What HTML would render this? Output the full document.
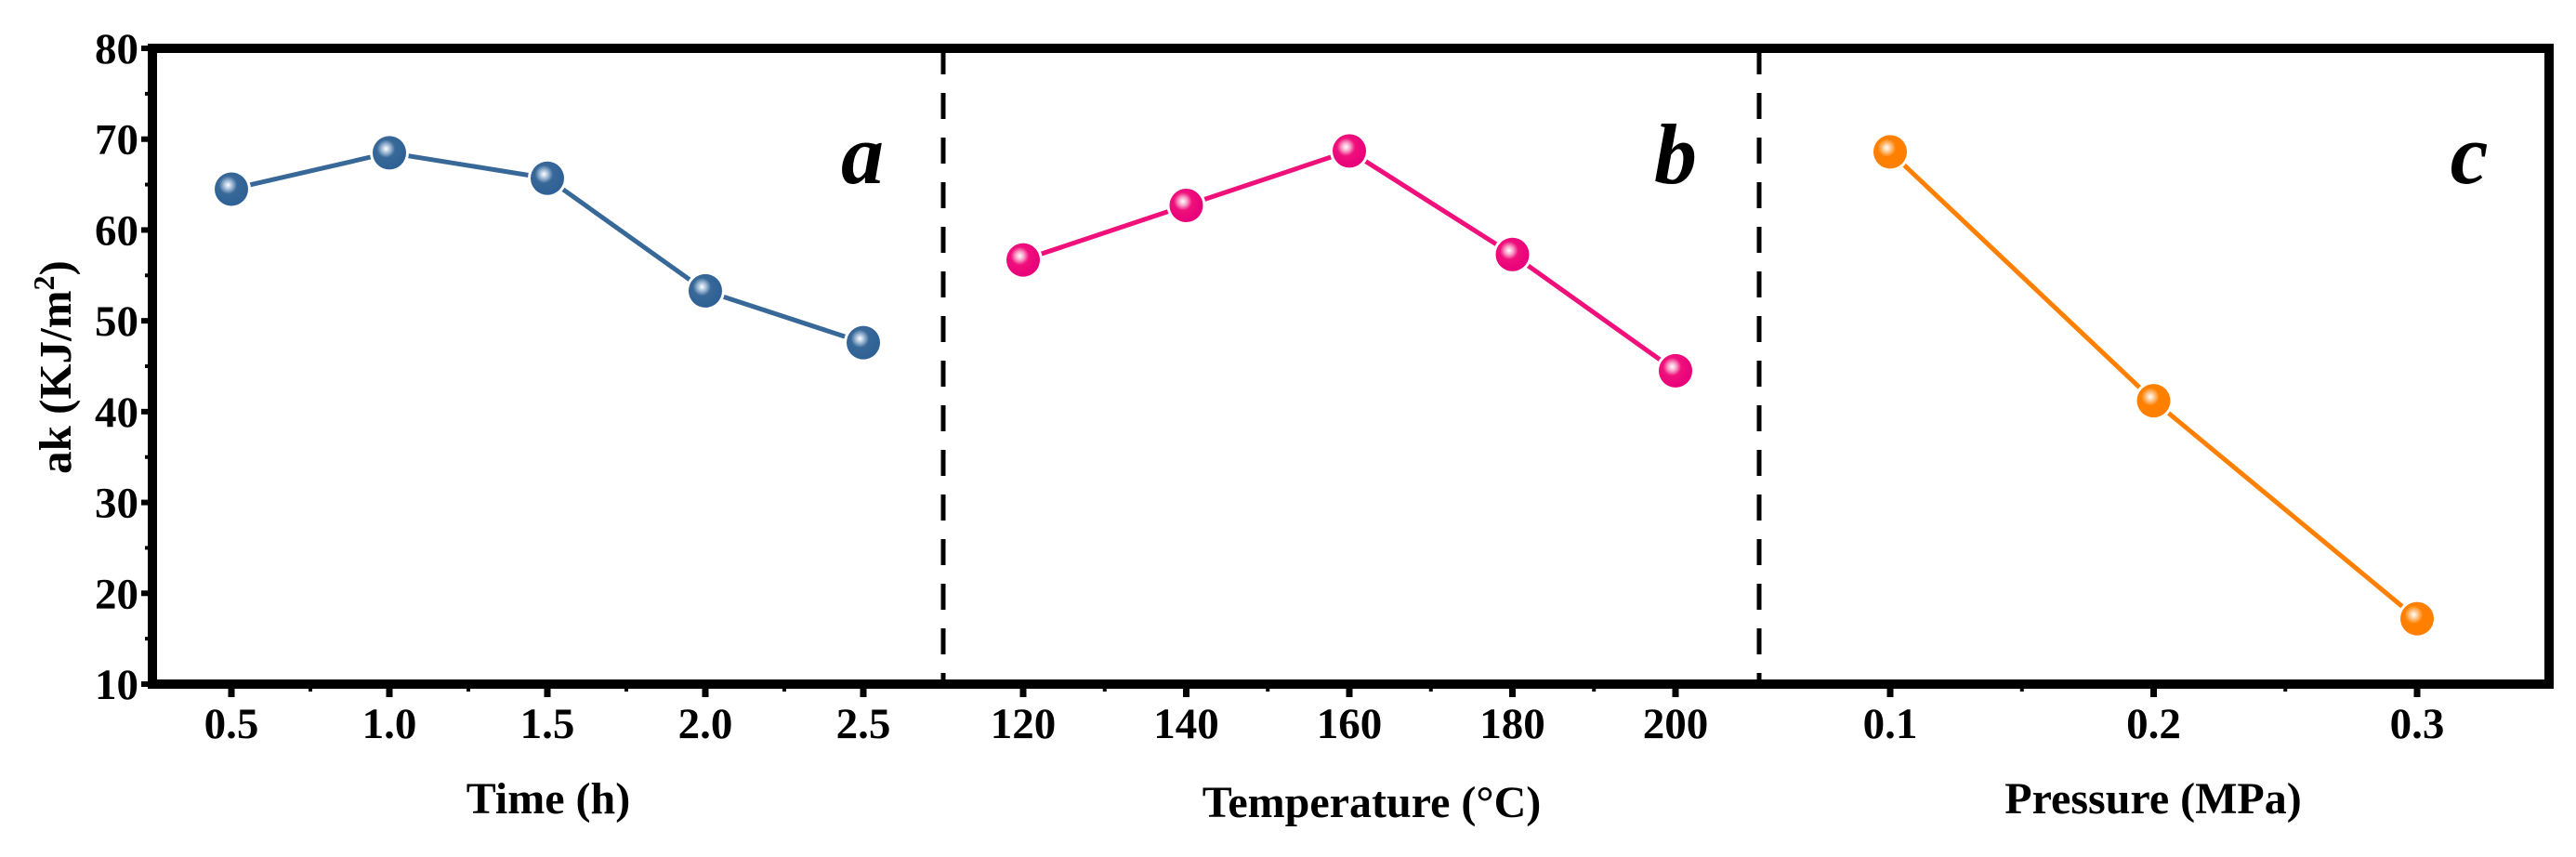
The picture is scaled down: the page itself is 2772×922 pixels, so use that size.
<!DOCTYPE html>
<html><head><meta charset="utf-8"><style>
html,body{margin:0;padding:0;background:#fff;}
svg{display:block;font-family:"Liberation Serif",serif;font-weight:bold;}
</style></head><body>
<svg id="chart" width="2772" height="922" viewBox="0 0 2772 922" xmlns="http://www.w3.org/2000/svg">
<defs>
<radialGradient id="gBlue" cx="0.4" cy="0.38" r="0.6"><stop offset="0" stop-color="#fff"/><stop offset="0.2" stop-color="#a8c0da"/><stop offset="0.45" stop-color="#386898"/><stop offset="1" stop-color="#2f6196"/></radialGradient>
<radialGradient id="gPink" cx="0.4" cy="0.38" r="0.6"><stop offset="0" stop-color="#fff"/><stop offset="0.2" stop-color="#f8a8cc"/><stop offset="0.45" stop-color="#f0107c"/><stop offset="1" stop-color="#e8007a"/></radialGradient>
<radialGradient id="gOrange" cx="0.4" cy="0.38" r="0.6"><stop offset="0" stop-color="#fff"/><stop offset="0.2" stop-color="#ffc890"/><stop offset="0.45" stop-color="#ff8000"/><stop offset="1" stop-color="#ff8000"/></radialGradient>
</defs>
</svg>
<script>
const timeCats = ["0.5","1.0","1.5","2.0","2.5"];
const timeVals = [64.5, 68.5, 65.7, 53.3, 47.6];
const tempCats = ["120","140","160","180","200"];
const tempVals = [56.7, 62.7, 68.7, 57.3, 44.5];
const presCats = ["0.1","0.2","0.3"];
const presVals = [68.6, 41.2, 17.2];
const yTicks = [10,20,30,40,50,60,70,80];

const svg = document.getElementById('chart');
const NS = 'http://www.w3.org/2000/svg';
function mk(tag, attrs, parent){ const e=document.createElementNS(NS,tag); for(const k in attrs) e.setAttribute(k,attrs[k]); (parent||svg).appendChild(e); return e; }

const L=164, R=2743, T=52, B=736;
const yMin=10, yMax=80;
function y(v){ return B - (v-yMin)/(yMax-yMin)*(B-T); }

const panels = [
 {name:'time', cats:timeCats, vals:timeVals, x0:249, dx:170, color:'#386898', grad:'gBlue', label:'a', lx:928, title:'Time (h)', tx:590, ty:875},
 {name:'temperature', cats:tempCats, vals:tempVals, x0:1101, dx:175.5, color:'#f0107c', grad:'gPink', label:'b', lx:1803, title:'Temperature (°C)', tx:1476, ty:879},
 {name:'pressure', cats:presCats, vals:presVals, x0:2034, dx:283.5, color:'#ff8000', grad:'gOrange', label:'c', lx:2657, title:'Pressure (MPa)', tx:2317, ty:875}
];
const bounds=[[L,1015],[1015,1893],[1893,R]];

yTicks.forEach(v=>{
  const t=mk('line',{x1:L-12,x2:L,y1:y(v),y2:y(v),stroke:'#000','stroke-width':6});
  
  
  const tx=mk('text',{x:L-15,y:y(v)+16,'text-anchor':'end','font-size':47});
  tx.textContent=v;
  
  
});
// minor y ticks
for(let v=15; v<80; v+=10){
  const m=mk('line',{x1:L-8,x2:L,y1:y(v),y2:y(v),stroke:'#000','stroke-width':4});
  
  
}
const yl=mk('text',{x:0,y:0,'text-anchor':'middle','font-size':49,transform:'translate(76,395) rotate(-90)'});
yl.innerHTML='ak (KJ/m<tspan baseline-shift="super" font-size="32">2</tspan>)';



panels.forEach((p,pi)=>{
  const xs=i=>p.x0+i*p.dx;
  for(let i=-1;i<=p.cats.length;i++){
    const mx=xs(i)+p.dx/2;
    if(mx>bounds[pi][0]+3 && mx<bounds[pi][1]-3){
      const m=mk('line',{x1:mx,x2:mx,y1:B,y2:B+8,stroke:'#000','stroke-width':4});
      
      
    }
  }
  p.cats.forEach((c,i)=>{
    const t=mk('line',{x1:xs(i),x2:xs(i),y1:B,y2:B+14,stroke:'#000','stroke-width':7});
    
    
    const tl=mk('text',{x:xs(i),y:794,'text-anchor':'middle','font-size':47});
    tl.textContent=c;
    
    
  });
  const pts=p.vals.map((v,i)=>xs(i)+','+y(v)).join(' ');
  const ln=mk('polyline',{points:pts,fill:'none',stroke:p.color,'stroke-width':5});
  
  
  p.vals.forEach((v,i)=>{
    mk('circle',{cx:xs(i),cy:y(v),r:21,fill:'#fff'});
    const c=mk('circle',{cx:xs(i),cy:y(v),r:18,fill:'url(#'+p.grad+')'});
    
    
  });
  const lb=mk('text',{x:p.lx,y:197,'text-anchor':'middle','font-size':92,'font-style':'italic'});
  lb.textContent=p.label;
  
  
  const tt=mk('text',{x:p.tx,y:p.ty,'text-anchor':'middle','font-size':48});
  tt.textContent=p.title;
  
  
});

[1015,1893].forEach(x=>{
  const d=mk('line',{x1:x,x2:x,y1:T,y2:B,stroke:'#000','stroke-width':5,'stroke-dasharray':'28,20'});
  
  
});
const f=mk('rect',{x:L,y:T,width:R-L,height:B-T,fill:'none',stroke:'#000','stroke-width':10});


</script>
</body></html>
